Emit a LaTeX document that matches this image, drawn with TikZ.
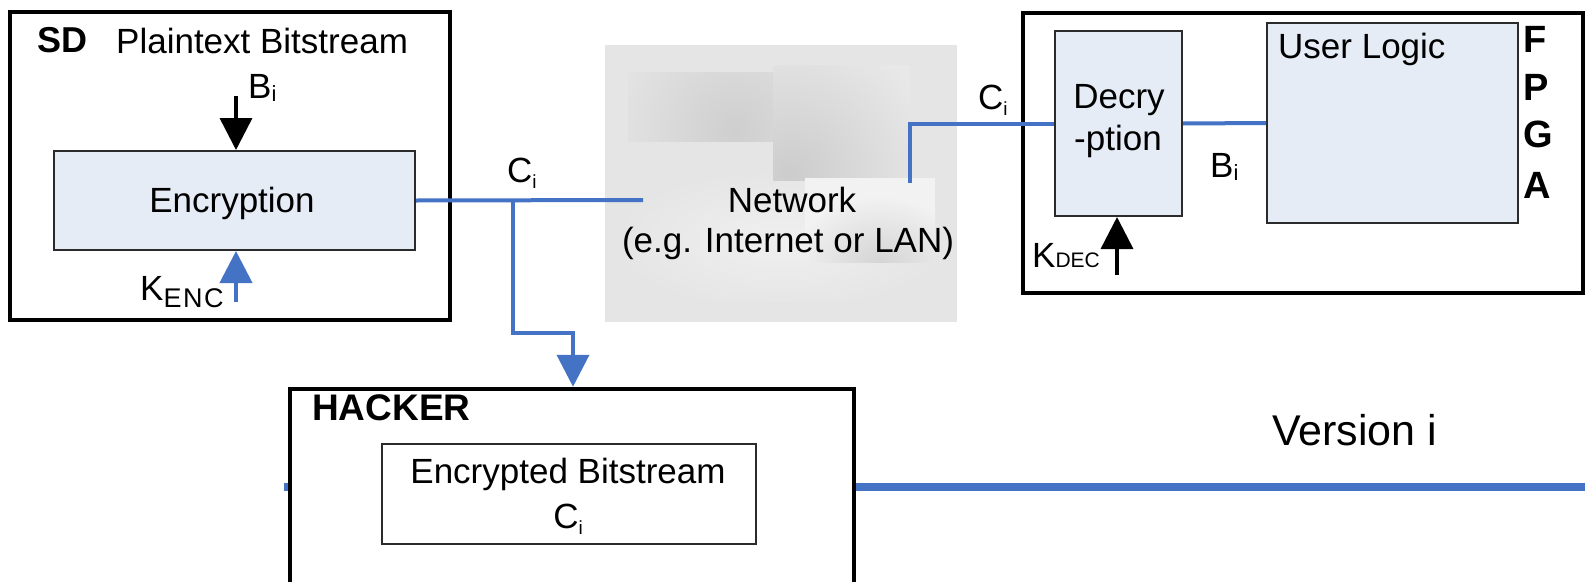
\documentclass[tikz,border=0pt]{standalone}
\usepackage{fontspec}
\setmainfont{Liberation Sans}
\usetikzlibrary{arrows.meta}

\definecolor{wire}{HTML}{4472C4}
\definecolor{blockfill}{HTML}{E6ECF6}
\definecolor{blockline}{HTML}{2B2B2B}
\definecolor{cloudbase}{HTML}{E5E5E5}

% lowered, smaller index text: size, drop (pt), text
\newcommand{\lowsub}[3]{\raisebox{-#2pt}{\fontsize{#1}{#1}\selectfont #3}}

\begin{document}
\begin{tikzpicture}[x=1pt,y=-1pt,
  outerbox/.style={draw=black,line width=4.5pt,fill=white,inner sep=0pt},
  unitbox/.style={draw=blockline,line width=2pt,fill=blockfill,inner sep=0pt},
  txt/.style={inner sep=0pt,font=\fontsize{35}{40}\selectfont},
  boldtxt/.style={inner sep=0pt,font=\fontsize{36}{40}\selectfont\bfseries},
  wireline/.style={draw=wire,line width=4pt},
  keyline/.style={draw=black,line width=3.5pt},
  bigtip/.style={-{Triangle[width=32pt,length=32pt]}}]

\useasboundingbox (0,0) rectangle (1585,581);
\clip (0,0) rectangle (1585,581);

% ---- network cloud ----
\node[fill=cloudbase,inner sep=0pt,minimum width=352pt,minimum height=277pt] (net) at (781,183.5) {};
% soft glow below the cloud
\begin{scope}
  \clip (627,141) rectangle (940,300);
  \shade[inner color=black!6,outer color=cloudbase] (780,240) ellipse (170 and 70);
\end{scope}
% upper left lobe
\begin{scope}
  \clip (628,72) rectangle (773,141);
  \fill[black!11] (628,72) rectangle (773,141);
  \shade[inner color=black!19,outer color=black!11] (735,130) circle (120);
\end{scope}
% upper right lobe
\begin{scope}
  \clip (773,65) rectangle (910,180);
  \fill[black!9] (773,65) rectangle (910,180);
  \shade[inner color=black!20,outer color=black!9] (790,175) circle (150);
\end{scope}
% lower right lobe
\begin{scope}
  \clip (805,178) rectangle (935,262);
  \fill[black!5] (805,178) rectangle (935,262);
  \shade[inner color=black!17,outer color=black!5] (880,265) ellipse (90 and 70);
\end{scope}
\node[txt,anchor=base] (netname) at (792,212) {Network};
\node[txt,anchor=base] (netnote) at (788,252) {(e.g. Internet or LAN)};

% ---- system developer ----
\node[outerbox,minimum width=440pt,minimum height=308pt] (sd) at (230,166) {};
\node[unitbox,minimum width=361pt,minimum height=99pt] (enc) at (234.5,200.5) {};
\node[boldtxt,anchor=base west] (sdname) at (37,52) {SD};
\node[txt,anchor=base west] (plain) at (116,53) {Plaintext Bitstream};
\node[txt,anchor=base west] (bin) at (248,98) {B\lowsub{22}{3}{i}};
\node[txt,anchor=base] (enctext) at (232,212) {Encryption};
\node[txt,anchor=base west] (kenctext) at (140,300) {K\lowsub{27}{7}{E\kern1.5pt N\kern1.5pt C}};

% ---- FPGA ----
\node[outerbox,minimum width=560pt,minimum height=280pt] (fpga) at (1303,153) {};
\node[unitbox,minimum width=127pt,minimum height=185pt] (dec) at (1118.5,123.5) {};
\node[unitbox,minimum width=251pt,minimum height=200pt] (ul) at (1392.5,123) {};
\node[txt,anchor=base] (dec1) at (1119,108) {Decry};
\node[txt,anchor=base] (dec2) at (1118,150) {-ption};
\node[txt,anchor=base west] (ultext) at (1278,58) {User Logic};
\node[txt,anchor=base west] (bout) at (1210,177) {B\lowsub{22}{3}{i}};
\node[txt,anchor=base west] (cin) at (978,109) {C\lowsub{19}{6}{i}};
\node[txt,anchor=base west] (kdectext) at (1032,267) {K\lowsub{21}{0}{DEC}};
\node[boldtxt,font=\fontsize{38}{40}\selectfont\bfseries,anchor=base west] (f1) at (1523,52) {F};
\node[boldtxt,font=\fontsize{38}{40}\selectfont\bfseries,anchor=base west] (f2) at (1523,100) {P};
\node[boldtxt,font=\fontsize{38}{40}\selectfont\bfseries,anchor=base west] (f3) at (1523,147) {G};
\node[boldtxt,font=\fontsize{38}{40}\selectfont\bfseries,anchor=base west] (f4) at (1523,198) {A};

% ---- hacker and version line ----
\coordinate (vstart) at (284,487);
\coordinate (vend) at (1600,487);
\draw[wire,line width=8pt] (vstart) -- (vend);
\node[outerbox,minimum width=564pt,minimum height=231pt] (hack) at (572,504.5) {};
\node[draw=blockline,line width=2pt,fill=white,inner sep=0pt,minimum width=374pt,minimum height=100pt] (cbits) at (569,494) {};
\node[boldtxt,font=\fontsize{37}{40}\selectfont\bfseries,anchor=base west] (hackname) at (312,420) {HACKER};
\node[txt,anchor=base] (cbits1) at (568,483) {Encrypted Bitstream};
\node[txt,anchor=base] (cbits2) at (568,528) {C\lowsub{19}{6}{i}};
\node[txt,font=\fontsize{43}{48}\selectfont,anchor=base west] (version) at (1272,445) {Version i};
\node[txt,anchor=base west] (cout) at (507,182) {C\lowsub{19}{6}{i}};

% ---- connectors ----
\coordinate (bsrc) at (236,96);
\draw[keyline,bigtip] (bsrc) -- (bsrc |- enc.north);
\coordinate (ksrc) at (236,302);
\draw[wireline,bigtip] (ksrc) -- (ksrc |- enc.south);

\coordinate (netin) at (643,200);
\coordinate (tap) at (513,200);
\coordinate (bend) at (573,333);
\draw[wireline] (enc.east) -- (netin);
\draw[wireline,bigtip] (tap) |- (bend) -- (bend |- hack.north);

\coordinate (netout) at (910,183);
\draw[wireline] (netout) |- (dec.west);
\draw[wireline] (dec.east) -- (ul.west);
\coordinate (kdsrc) at (1117,275);
\draw[keyline,bigtip] (kdsrc) -- (kdsrc |- dec.south);

\end{tikzpicture}
\end{document}
